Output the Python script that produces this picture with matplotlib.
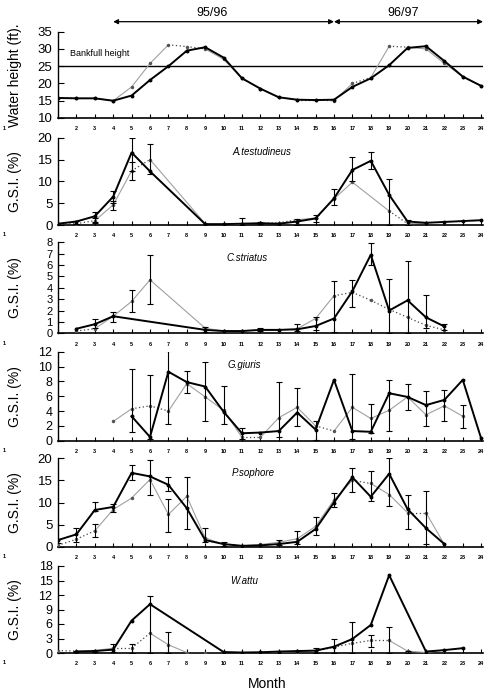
import numpy as np
import matplotlib
matplotlib.use("Agg")
import matplotlib.pyplot as plt

plt.rcParams['font.family'] = ['Liberation Sans', 'DejaVu Sans']

nan = np.nan
months = np.arange(1, 25)

# water height (ft)
water_black = [15.8, 15.7, 15.7, 15.0, 16.5, 21.0, 25.0, 29.5, 30.5, 27.5, 21.5, 18.5,
               16.0, 15.3, 15.2, 15.3, 19.0, 21.5, 25.3, 30.3, 30.8, 26.5, 22.0, 19.3]
water_grey = [15.8, 15.7, 15.7, 15.0, 19.0, 25.8, 31.2, 30.7, 30.0, 27.0, 21.5, 18.5,
              16.0, 15.2, 15.2, 15.0, 20.0, 21.7, 30.8, 30.5, 30.0, 25.8, 22.0, 19.3]
water_dotted = [7, 8, 14, 15, 17, 19]
bankfull = 25

# A.testudineus
at_black = [0.3, 0.8, 2.0, 6.5, 16.6, 12.3, nan, nan, 0.2, 0.2, 0.3, 0.4,
            0.3, 0.8, 1.5, 6.1, 12.6, 14.7, 6.9, 0.8, 0.5, 0.7, 0.9, 1.1]
at_grey = [0.2, 0.3, 1.0, 4.6, 12.4, 15.0, nan, nan, 0.3, 0.3, 0.3, 0.4,
           0.5, 1.2, 1.6, 6.0, 9.8, nan, 3.2, 0.3, 0.4, nan, nan, nan]
at_dotted = [1, 2, 5, 12, 13, 19]
at_err_m = [2, 3, 3, 4, 4, 5, 5, 6, 11, 12, 14, 15, 16, 17, 18, 19, 20]
at_err_lo = [0.3, 0.8, 0.5, 5.0, 3.5, 12.4, 10.3, 11.7, 0.0, 0.2, 0.0, 0.8, 4.5, 10.0, 12.8, 0.0, 0.0]
at_err_hi = [1.0, 3.0, 1.5, 7.7, 5.5, 20.0, 14.5, 18.5, 1.5, 0.6, 1.3, 2.3, 8.2, 15.5, 16.8, 10.5, 1.1]

# C.striatus
cs_black = [nan, 0.4, 0.8, 1.5, nan, nan, nan, nan, 0.3, 0.2, 0.2, 0.3,
            0.3, 0.35, 0.64, 1.3, 3.7, 6.9, 2.0, 2.9, 1.4, 0.6, nan, nan]
cs_grey = [nan, 0.2, 0.4, 1.5, 2.8, 4.7, nan, nan, 0.45, 0.2, 0.2, 0.3,
           0.3, 0.4, 1.3, 3.3, 3.6, 2.9, 2.1, 1.4, 0.7, 0.3, nan, nan]
cs_dotted = [2, 16, 17, 18, 19, 20, 21]
cs_err_m = [3, 4, 5, 6, 9, 12, 14, 15, 16, 17, 18, 19, 20, 21, 22]
cs_err_lo = [0.5, 1.0, 1.9, 2.6, 0.1, 0.2, 0.2, 0.3, 0.1, 2.3, 6.0, 0.0, 0.0, 0.5, 0.3]
cs_err_hi = [1.3, 1.9, 3.8, 6.9, 0.55, 0.45, 0.8, 1.4, 4.6, 4.7, 7.9, 4.8, 6.4, 3.4, 0.8]

# G.giuris
gg_black = [nan, nan, nan, nan, 3.3, 0.5, 9.3, 7.9, 7.3, 3.9, 1.0, 1.1,
            1.3, 3.8, 1.5, 8.2, 1.3, 1.2, 6.4, 5.9, 4.8, 5.5, 8.2, 0.3]
gg_grey = [nan, nan, nan, 2.6, 4.3, 4.7, 4.0, 7.7, 5.9, 4.1, 0.45, 0.45,
           3.1, 4.5, 2.0, 1.3, 4.5, 3.0, 4.1, 5.9, 3.5, 4.7, 3.3, nan]
gg_dotted = [5, 6, 11, 15]
gg_err_m = [5, 6, 7, 8, 9, 10, 11, 13, 14, 15, 17, 18, 19, 20, 21, 22, 23]
gg_err_lo = [1.2, 0.2, 2.2, 6.4, 2.6, 2.2, 0.2, 0.5, 2.0, 0.1, 0.2, 1.1, 1.3, 4.1, 2.0, 2.7, 1.7]
gg_err_hi = [9.7, 8.8, 12.1, 9.4, 10.6, 7.4, 1.7, 7.9, 7.1, 2.6, 9.0, 5.0, 8.2, 7.7, 6.7, 6.9, 4.8]

# P.sophore
ps_black = [1.5, 2.8, 8.3, 9.0, 16.7, 15.9, 14.0, 8.7, 1.5, 0.6, 0.2, 0.3,
            0.6, 1.1, 4.0, 10.0, 15.7, 11.3, 16.5, 8.5, 4.2, 0.6, nan, nan]
ps_grey = [0.3, 1.7, 3.6, 8.4, 11.0, 15.2, 7.3, 11.4, 2.0, 0.5, 0.2, 0.5,
           1.0, 1.8, 4.6, 10.6, 15.0, 14.3, 11.8, 7.7, 7.7, 0.5, nan, nan]
ps_dotted = [1, 2, 17, 20]
ps_err_m = [1, 2, 3, 3, 4, 5, 6, 7, 7, 8, 9, 10, 13, 14, 15, 16, 17, 18, 19, 20, 21]
ps_err_lo = [0.8, 1.0, 8.0, 2.3, 7.9, 15.0, 11.7, 12.5, 3.4, 4.0, 1.0, 0.2, 0.4, 0.5, 2.7,
             8.9, 12.3, 10.3, 9.3, 4.0, 0.5]
ps_err_hi = [1.8, 4.2, 10.2, 5.1, 9.6, 18.5, 19.7, 15.7, 10.9, 15.7, 4.2, 1.0, 1.6, 3.5, 6.8,
             12.1, 17.8, 17.2, 20.1, 11.7, 12.5]

# W.attu
wa_black = [nan, 0.3, 0.4, 0.7, 6.7, 10.1, nan, nan, nan, 0.2, 0.1, 0.15,
            0.3, 0.4, 0.5, 1.3, 2.9, 5.8, 16.1, nan, 0.3, 0.6, 1.0, nan]
wa_grey = [0.5, 0.4, 0.5, 1.0, 1.0, 4.1, 1.7, 0.1, 0.1, 0.1, 0.1, 0.1,
           0.2, 0.3, 0.4, 1.2, 2.0, 2.6, 2.6, 0.4, 0.1, 0.6, nan, nan]
wa_dotted = [1, 4, 5, 15, 16, 17, 18]
wa_err_m = [2, 3, 4, 5, 6, 7, 15, 16, 17, 18, 19, 20]
wa_err_lo = [0.2, 0.2, 0.2, 0.0, 0.0, 0.0, 0.0, 0.0, 0.0, 1.2, 0.0, 0.0]
wa_err_hi = [0.5, 0.7, 1.9, 1.8, 11.7, 4.4, 1.0, 3.0, 6.4, 3.7, 5.4, 0.5]

species = ["A.testudineus", "C.striatus", "G.giuris", "P.sophore", "W.attu"]
name_pos = [(12.1, 16.7), (11.3, 6.6), (11.1, 10.2), (11.6, 16.7), (11.1, 15.0)]
ylims = [(0, 20, 5), (0, 8, 1), (0, 12, 2), (0, 20, 5), (0, 18, 3)]
ytick_size = [9.5, 8, 9, 9.5, 9]
blacks = [at_black, cs_black, gg_black, ps_black, wa_black]
greys = [at_grey, cs_grey, gg_grey, ps_grey, wa_grey]
dots = [at_dotted, cs_dotted, gg_dotted, ps_dotted, wa_dotted]
errs = [(at_err_m, at_err_lo, at_err_hi), (cs_err_m, cs_err_lo, cs_err_hi),
        (gg_err_m, gg_err_lo, gg_err_hi), (ps_err_m, ps_err_lo, ps_err_hi),
        (wa_err_m, wa_err_lo, wa_err_hi)]

W, H = 500, 695
fig = plt.figure(figsize=(W / 100, H / 100), dpi=100)

# panel boxes in pixels: (top, bottom)
boxes = [(31.7, 118), (137.7, 225), (242.3, 333.3), (351.7, 440.7), (458.3, 546.7), (566, 653)]
x0, x1 = 58, 483


def make_ax(top, bot, ysize):
    ax = fig.add_axes([x0 / W, 1 - bot / H, (x1 - x0) / W, (bot - top) / H])
    ax.spines['top'].set_visible(False)
    ax.spines['right'].set_visible(False)
    ax.spines['left'].set_linewidth(1.0)
    ax.spines['bottom'].set_linewidth(1.2)
    ax.set_xlim(1, 24.1)
    ax.set_xticks(months)
    ax.set_xticklabels([''] + [str(m) for m in months[1:]], fontsize=4, fontweight='bold')
    ax.tick_params(axis='x', direction='in', length=3, width=0.8, pad=6)
    ax.tick_params(axis='y', direction='in', length=4, width=0.8, labelsize=ysize, pad=4)
    fig.text(3 / W, 1 - (bot + 10) / H, '1', fontsize=4, fontweight='bold', va='center')
    return ax


def draw_series(ax, y, dotted=None, grey=False):
    y = np.asarray(y, float)
    ok = ~np.isnan(y)
    xs, ys = months[ok], y[ok]
    if not grey:
        ax.plot(xs, ys, color='black', lw=1.4, marker='o', ms=1.8, zorder=4)
        return
    for i in range(len(xs) - 1):
        seg_x, seg_y = xs[i:i + 2], ys[i:i + 2]
        if xs[i] in dotted:
            ax.plot(seg_x, seg_y, color='#444444', lw=0.9, ls=(0, (1, 2)), zorder=3)
        else:
            ax.plot(seg_x, seg_y, color='#a0a0a0', lw=0.8, zorder=3)
    ax.plot(xs, ys, ls='none', marker='o', ms=1.5, color='#555555', zorder=3)


# water height panel
ax = make_ax(*boxes[0], 9.5)
ax.set_ylim(10, 35)
ax.set_yticks(range(10, 36, 5))
ax.axhline(bankfull, color='black', lw=1.0)
draw_series(ax, water_grey, water_dotted, grey=True)
draw_series(ax, water_black)
ax.text(1.65, 28.7, 'Bankfull height', fontsize=6.5, va='center')
ax.set_ylabel('Water height (ft).', fontsize=10)
ax.yaxis.set_label_coords(-0.085, 0.5)
arrow = dict(arrowstyle='<|-|>', color='black', lw=0.9, mutation_scale=7, shrinkA=0, shrinkB=0)
ax.annotate('', xy=(4, 37.9), xytext=(16, 37.9), arrowprops=arrow, annotation_clip=False)
ax.annotate('', xy=(16, 37.9), xytext=(24.1, 37.9), arrowprops=arrow, annotation_clip=False)
ax.text(9.4, 40.3, '95/96', fontsize=9, ha='center', va='center', clip_on=False)
ax.text(19.75, 40.3, '96/97', fontsize=9, ha='center', va='center', clip_on=False)

# GSI panels
for k in range(5):
    ax = make_ax(*boxes[k + 1], ytick_size[k])
    lo, hi, st = ylims[k]
    ax.set_ylim(lo, hi)
    ax.set_yticks(np.arange(lo, hi + st / 2, st))
    em, elo, ehi = [np.asarray(a, float) for a in errs[k]]
    mid = (elo + ehi) / 2
    ax.errorbar(em, mid, yerr=(ehi - elo) / 2, fmt='none', ecolor='black',
                elinewidth=0.8, capsize=2, capthick=0.8, zorder=5)
    draw_series(ax, greys[k], dots[k], grey=True)
    draw_series(ax, blacks[k])
    ax.text(name_pos[k][0], name_pos[k][1], species[k], fontsize=7, style='italic',
            ha='center', va='center')
    ax.set_ylabel('G.S.I. (%)', fontsize=10)
    ax.yaxis.set_label_coords(-0.085, 0.5)

fig.text(267 / W, 1 - 684 / H, 'Month', fontsize=10, ha='center', va='center')

fig.savefig('out.png', dpi=100)
